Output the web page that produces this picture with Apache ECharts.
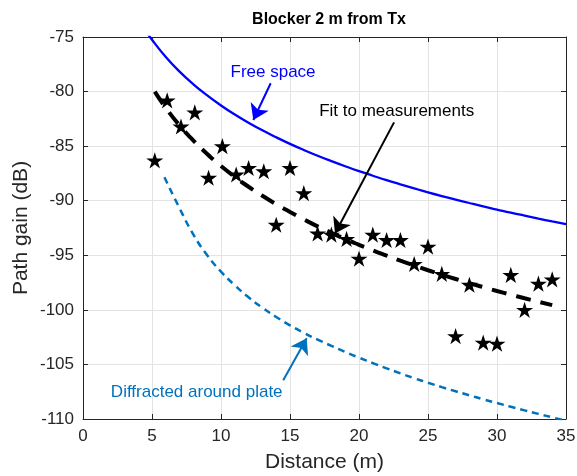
<!DOCTYPE html>
<html>
<head>
<meta charset="utf-8">
<script src="https://cdn.jsdelivr.net/npm/echarts@6/dist/echarts.min.js"></script>
<style>
  html, body { margin: 0; padding: 0; background: #fff; }
  #chart { width: 577px; height: 476px; }
</style>
</head>
<body>
<div id="chart"></div>
<script>
// Measured path gain (dB) versus distance (m)
const measDist = [5.2, 6.1, 7.1, 8.1, 9.1, 10.1, 11.1, 12.0, 13.1, 14.0, 15.0, 16.0, 17.0, 18.0, 19.1,
                  20.0, 21.0, 22.0, 23.0, 24.0, 25.0, 26.0, 27.0, 28.0, 29.0, 30.0, 31.0, 32.0, 33.0, 34.0];
const measGain = [-86.3, -80.8, -83.2, -81.9, -87.9, -85.0, -87.6, -87.0, -87.3, -92.2, -87.0, -89.3, -93.0, -93.1, -93.5,
                  -95.3, -93.1, -93.6, -93.6, -95.8, -94.2, -96.7, -102.4, -97.7, -103.0, -103.1, -96.8, -100.0, -97.6, -97.2];

// Free-space reference curve
const fsDist = [4.6, 5, 6, 7, 8, 9, 10, 11, 12, 13, 14, 15, 16, 17, 18, 19, 20,
                21, 22, 23, 24, 25, 26, 27, 28, 29, 30, 31, 32, 33, 34, 35];
const fsGain = [-74.52, -75.25, -76.83, -78.17, -79.33, -80.35, -81.27, -82.10, -82.85, -83.55, -84.19, -84.79, -85.35,
                -85.88, -86.37, -86.84, -87.29, -87.71, -88.12, -88.50, -88.87, -89.23, -89.57, -89.89, -90.21, -90.52,
                -90.81, -91.10, -91.37, -91.64, -91.90, -92.15];

// Fitted curve through the measurements
const fitDist = [5.2, 6, 7, 8, 9, 10, 11, 12, 13, 14, 15, 16, 17, 18, 19, 20,
                 21, 22, 23, 24, 25, 26, 27, 28, 29, 30, 31, 32, 33, 34];
const fitGain = [-80.0, -81.49, -83.10, -84.49, -85.72, -86.82, -87.81, -88.72, -89.55, -90.32, -91.04, -91.71, -92.35,
                 -92.94, -93.51, -94.04, -94.55, -95.03, -95.50, -95.94, -96.37, -96.78, -97.17, -97.55, -97.91, -98.27,
                 -98.61, -98.94, -99.26, -99.57];

// Diffraction around the plate
const difDist = [5.9, 7, 8, 9, 10, 11, 12, 13, 14, 15, 16, 17, 18, 19, 20,
                 21, 22, 23, 24, 25, 26, 27, 28, 29, 30, 31, 32, 33, 34, 35];
const difGain = [-87.85, -90.7, -93.1, -95.0, -96.5, -97.75, -98.85, -99.8, -100.65, -101.42, -102.1, -102.72, -103.3,
                 -103.85, -104.38, -104.88, -105.36, -105.82, -106.26, -106.68, -107.08, -107.46, -107.83, -108.19,
                 -108.54, -108.88, -109.21, -109.53, -109.85, -110.16];

const xTicks = [0, 5, 10, 15, 20, 25, 30, 35];
const yTicks = [-110, -105, -100, -95, -90, -85, -80, -75];

const pair = (xs, ys) => xs.map((x, i) => [x, ys[i]]);

const AX = '#262626';
const GRID = '#e3e3e3';
const FONT = '"Liberation Sans", Arial, Helvetica, sans-serif';
const STAR = 'path://M50 0 L61.2 34.5 L97.6 34.5 L68.2 55.9 L79.4 90.5 L50 69.1 L20.6 90.5 L31.8 55.9 L2.4 34.5 L38.8 34.5 Z';

function axisBase(min, max, interval) {
  return {
    type: 'value', min: min, max: max, interval: interval,
    axisLine: { show: true, onZero: false, lineStyle: { color: AX, width: 1 } },
    axisTick: { show: true, inside: true, length: 5, lineStyle: { color: AX } },
    splitLine: { show: false },
    axisLabel: { show: false }
  };
}

const chart = echarts.init(document.getElementById('chart'), null, { renderer: 'canvas' });

function arrow(from, to, color) {
  return {
    silent: true,
    symbol: ['none', 'arrow'],
    symbolSize: 15,
    label: { show: false },
    lineStyle: { color: color, width: 2, type: 'solid' },
    itemStyle: { color: color },
    emphasis: { disabled: true },
    animation: false,
    data: [[{ coord: from }, { coord: to }]]
  };
}

const option = {
  animation: false,
  backgroundColor: '#fff',
  textStyle: { fontFamily: FONT },
  title: {
    text: 'Blocker 2 m from Tx',
    left: 324, top: 7, textAlign: 'center',
    textStyle: { fontFamily: FONT, fontSize: 16, fontWeight: 'bold', color: '#000' }
  },
  grid: { left: 83, right: 11, top: 37, bottom: 57, containLabel: false, outerBoundsMode: 'none' },
  xAxis: [
    Object.assign(axisBase(0, 35, 5), {
      position: 'bottom',
      splitLine: { show: true, lineStyle: { color: GRID, width: 1 } },
      axisLabel: { show: true, color: AX, fontSize: 17, fontFamily: FONT, margin: 9,
                   formatter: v => xTicks.includes(v) ? String(v) : '' },
      name: 'Distance (m)', nameLocation: 'middle', nameGap: 33, nameMoveOverlap: false,
      nameTextStyle: { color: AX, fontSize: 21, fontFamily: FONT }
    }),
    Object.assign(axisBase(0, 35, 5), { position: 'top' })
  ],
  yAxis: [
    Object.assign(axisBase(-110, -75, 5), {
      position: 'left',
      splitLine: { show: true, lineStyle: { color: GRID, width: 1 } },
      axisLabel: { show: true, color: AX, fontSize: 17, fontFamily: FONT, margin: 9,
                   formatter: v => yTicks.includes(v) ? String(v) : '' },
      name: 'Path gain (dB)', nameLocation: 'middle', nameGap: 51, nameMoveOverlap: false,
      nameTextStyle: { color: AX, fontSize: 21, fontFamily: FONT }
    }),
    Object.assign(axisBase(-110, -75, 5), { position: 'right' })
  ],
  series: [
    {
      name: 'Free space', type: 'line', data: pair(fsDist, fsGain),
      smooth: true, showSymbol: false, clip: true,
      lineStyle: { color: '#0000ff', width: 2.3 },
      markLine: arrow([13.6, -79.24], [12.34, -82.6], '#0000ff')
    },
    {
      name: 'Diffracted around plate', type: 'line', data: pair(difDist, difGain),
      smooth: true, showSymbol: false, clip: true,
      lineStyle: { color: '#0072bd', width: 2.5, type: [7, 5] },
      markLine: arrow([14.51, -106.44], [16.21, -102.6], '#0072bd')
    },
    {
      name: 'Fit to measurements', type: 'line', data: pair(fitDist, fitGain),
      smooth: true, showSymbol: false, clip: true, z: 3,
      lineStyle: { color: '#000', width: 4, type: [15, 10] },
      markLine: arrow([22.54, -82.82], [18.26, -93.0], '#000')
    },
    {
      name: 'Measurements', type: 'scatter', data: pair(measDist, measGain),
      symbol: STAR, symbolSize: 17, symbolKeepAspect: true, z: 4,
      itemStyle: { color: '#000', opacity: 1 }
    }
  ]
};

chart.setOption(option);

// Curve labels, anchored at data positions
const labels = [
  { text: 'Free space', at: [13.77, -78.27], color: '#0000ff' },
  { text: 'Fit to measurements', at: [22.73, -81.85], color: '#000' },
  { text: 'Diffracted around plate', at: [8.24, -107.6], color: '#0072bd' }
];
chart.setOption({
  graphic: labels.map(l => {
    const p = chart.convertToPixel({ xAxisIndex: 0, yAxisIndex: 0 }, l.at);
    return {
      type: 'text', x: p[0], y: p[1], silent: true,
      style: { text: l.text, fill: l.color, font: '17px ' + FONT, align: 'center', verticalAlign: 'middle' }
    };
  })
});
</script>
</body>
</html>
